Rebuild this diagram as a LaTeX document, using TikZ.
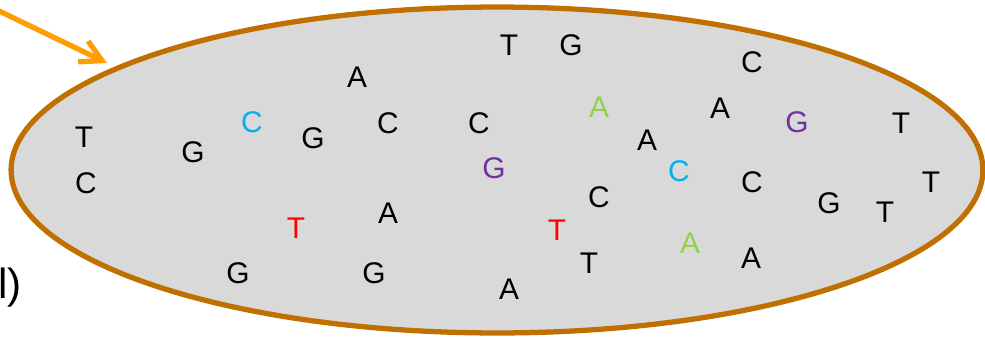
\documentclass[tikz,border=0pt]{standalone}
\usepackage{fontspec}
\setmainfont{Liberation Sans}
\usepackage{xcolor}
\usetikzlibrary{shapes,arrows.meta,positioning}
\definecolor{poolfill}{HTML}{D9D9D9}
\definecolor{poolrim}{HTML}{C07000}
\definecolor{pointer}{HTML}{FF9E00}
\definecolor{cyanbase}{HTML}{00B0F0}
\definecolor{greenbase}{HTML}{92D050}
\definecolor{purplebase}{HTML}{7030A0}
\definecolor{redbase}{HTML}{FF0000}

\begin{document}
\begin{tikzpicture}[
  x=0.02cm,y=-0.02cm,
  pool/.style={ellipse,draw=poolrim,fill=poolfill,line width=3pt,minimum width=19.44cm,minimum height=6.52cm,inner sep=0pt},
  base/.style={font=\fontsize{17}{20}\selectfont,inner sep=0pt},
  arrow/.style={-{Straight Barb[length=4.2mm,width=4.6mm]},draw=pointer,line width=3pt,line cap=round,line join=round}
]
\useasboundingbox (0,0) rectangle (985,338);
\node[pool] (pool) at (497,170) {};
% free bases in the pool
\node[base] (t1) at (84,137) {T};
\node[base] (c1) at (86,183) {C};
\node[base] (g1) at (193,152) {G};
\node[base,text=cyanbase] (c2) at (252,122) {C};
\node[base] (a1) at (357,77) {A};
\node[base] (g2) at (313,138) {G};
\node[base] (c3) at (388,123) {C};
\node[base] (c4) at (479,123) {C};
\node[base] (t2) at (509,45) {T};
\node[base] (g3) at (571,45) {G};
\node[base,text=greenbase] (a2) at (599,107) {A};
\node[base,text=purplebase] (g4) at (494,168) {G};
\node[base] (a3) at (647,140) {A};
\node[base,text=cyanbase] (c5) at (679,171) {C};
\node[base] (a4) at (720,108) {A};
\node[base] (c6) at (752,62) {C};
\node[base,text=purplebase] (g5) at (797,122) {G};
\node[base] (t3) at (901,123) {T};
\node[base] (c7) at (752,182) {C};
\node[base] (t4) at (931,182) {T};
\node[base] (g6) at (829,203) {G};
\node[base] (t5) at (885,212) {T};
\node[base] (c8) at (599,197) {C};
\node[base,text=redbase] (t6) at (296,228) {T};
\node[base] (a5) at (388,213) {A};
\node[base,text=redbase] (t7) at (557,230) {T};
\node[base,text=greenbase] (a6) at (690,243) {A};
\node[base] (a7) at (751,258) {A};
\node[base] (t8) at (589,263) {T};
\node[base] (g7) at (238,273) {G};
\node[base] (g8) at (374,273) {G};
\node[base] (a8) at (509,289) {A};
% pointer into the pool
\coordinate (src) at (-4,9.5);
\coordinate (tip) at (107,63);
\draw[arrow] (src) -- (tip);
\node[font=\fontsize{24}{28}\selectfont,anchor=east,inner sep=0pt] (label) at (22,288) {l)};
\end{tikzpicture}
\end{document}
